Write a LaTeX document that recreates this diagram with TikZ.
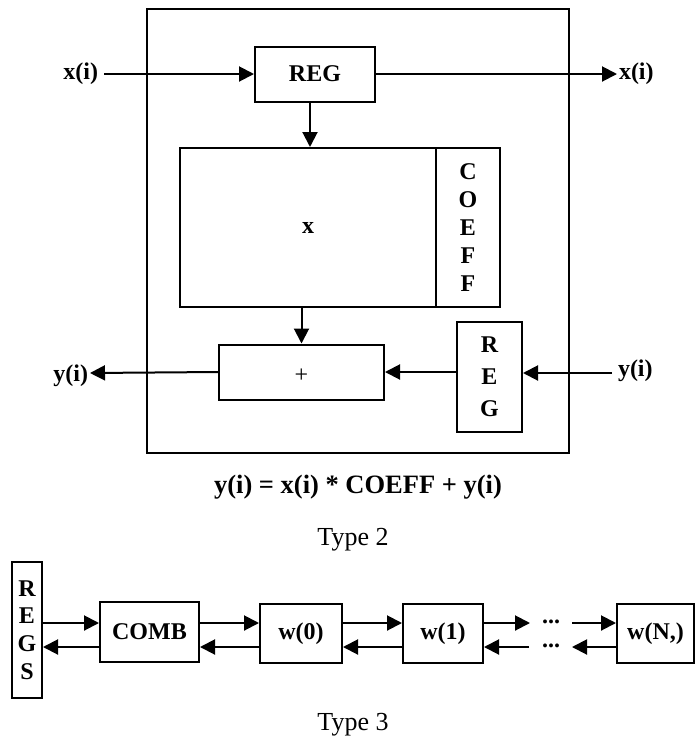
\documentclass[tikz,border=0pt]{standalone}
\usepackage{fontspec}
\setmainfont{Liberation Serif}
\usetikzlibrary{arrows.meta}
\begin{document}
\begin{tikzpicture}[x=1pt,y=-1pt,
  line width=2pt,
  box/.style={draw,line width=2pt,inner sep=0pt,font=\bfseries\fontsize{24}{28}\selectfont,align=center},
  lab/.style={inner sep=0pt,font=\bfseries\fontsize{24}{28}\selectfont},
  arr/.style={-{Triangle[length=15pt,width=15pt]}},
]
\useasboundingbox (0,0) rectangle (696,740);
% Type 2 cell
\node[draw,line width=2pt,minimum width=422,minimum height=444] (outer) at (358,231) {};
\node[box,minimum width=120,minimum height=55] (reg) at (315,74) {REG};
\node[box,minimum width=256,minimum height=159] (mul) at (308,227.5) {x};
\node[box,minimum width=64,minimum height=159] (coeff) at (468,227.5) {C\\O\\E\\F\\F};
\node[box,minimum width=165,minimum height=55,font=\fontsize{24}{28}\selectfont,text height=20pt,text depth=0pt] (plus) at (301.5,372) {+};
\node[box,minimum width=65,minimum height=110,font=\bfseries\fontsize{24}{32}\selectfont] (reg2) at (489.5,377) {R\\E\\G};
% labels
\node[lab,anchor=east] (xin) at (99,74) {x(i)};
\coordinate (xinend) at (104,74);
\coordinate (xoutend) at (617,74);
\node[lab,anchor=west] (xout) at (618,74) {x(i)};
\coordinate (yinend) at (612,373);
\node[lab,anchor=west] (yin) at (617,371) {y(i)};
\coordinate (youtend) at (90,373);
\node[lab,anchor=east] (yout) at (89,376) {y(i)};
% connectors
\draw[arr] (xinend) -- (reg.west);
\draw[arr] (reg.east) -- (xoutend);
\draw[arr] ([xshift=-5pt]reg.south) -- ([xshift=-5pt]reg.south |- mul.north);
\draw[arr] (plus.north |- mul.south) -- (plus.north);
\draw[arr] (reg2.west |- plus.east) -- (plus.east);
\draw[arr] (yinend) -- (yinend -| reg2.east);
\draw[arr] (plus.west) -- (youtend);
% equation and captions
\node[inner sep=0pt,font=\bfseries\fontsize{26.5}{30}\selectfont] (eq) at (358,487) {y(i) = x(i) * COEFF + y(i)};
\node[inner sep=0pt,font=\fontsize{26}{30}\selectfont] (t2) at (353,540) {Type 2};
% Type 3 row
\node[box,minimum width=30,minimum height=136,font=\bfseries\fontsize{24}{27.7}\selectfont] (regs) at (27,630) {R\\E\\G\\S};
\node[box,minimum width=99,minimum height=60] (comb) at (149.5,632) {COMB};
\node[box,minimum width=82,minimum height=59] (w0) at (301,633.5) {w(0)};
\node[box,minimum width=80,minimum height=59] (w1) at (443,633.5) {w(1)};
\node[box,minimum width=77,minimum height=59] (wn) at (655.5,633.5) {w(N,)};
\coordinate (top) at (0,623);
\coordinate (bot) at (0,647);
\draw[arr] (regs.east |- top) -- (comb.west |- top);
\draw[arr] (comb.west |- bot) -- (regs.east |- bot);
\draw[arr] (comb.east |- top) -- (w0.west |- top);
\draw[arr] (w0.west |- bot) -- (comb.east |- bot);
\draw[arr] (w0.east |- top) -- (w1.west |- top);
\draw[arr] (w1.west |- bot) -- (w0.east |- bot);
\coordinate (ta) at (530,623);
\coordinate (tb) at (572,623);
\coordinate (ba) at (529,647);
\coordinate (bb) at (572,647);
\draw[arr] (w1.east |- top) -- (ta);
\draw[arr] (tb) -- (wn.west |- top);
\draw[arr] (wn.west |- bot) -- (bb);
\draw[arr] (ba) -- (w1.east |- bot);
\node[lab,anchor=base] (dt) at (551,623) {...};
\node[lab,anchor=base] (db) at (551,647) {...};
\node[inner sep=0pt,font=\fontsize{26}{30}\selectfont] (t3) at (353,725) {Type 3};
\end{tikzpicture}
\end{document}
